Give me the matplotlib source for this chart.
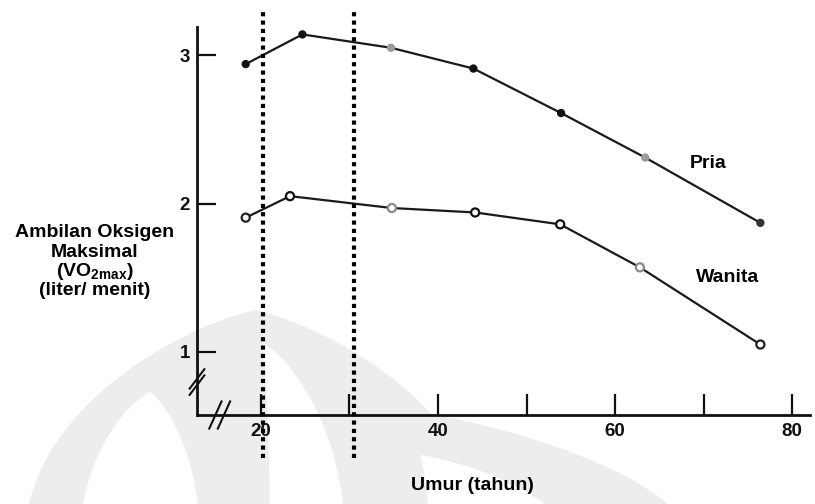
import matplotlib
matplotlib.use("Agg")
import matplotlib.pyplot as plt
from matplotlib.path import Path
from matplotlib.patches import PathPatch

plt.rcParams['font.family'] = ['Liberation Sans', 'DejaVu Sans']

# Data
umur_pria = [18.3, 24.7, 34.7, 44.0, 53.9, 63.4, 76.4]
vo2_pria = [2.94, 3.14, 3.05, 2.91, 2.61, 2.31, 1.87]
umur_wanita = [18.3, 23.3, 34.8, 44.2, 53.8, 62.8, 76.4]
vo2_wanita = [1.905, 2.05, 1.97, 1.94, 1.86, 1.57, 1.05]
pria_colors = ['#111111', '#111111', '#9a9a9a', '#111111', '#111111', '#9a9a9a', '#333333']
wanita_colors = ['#222222', '#111111', '#8a8a8a', '#111111', '#111111', '#8a8a8a', '#222222']
x_ticks = [20, 30, 40, 50, 60, 70, 80]
x_ticklabels = ['20', '', '40', '', '60', '', '80']
y_ticks = [1, 2, 3]
y_ticklabels = ['1', '2', '3']
batas_umur = [20.3, 30.5]
ylabel_lines = ['Ambilan Oksigen', 'Maksimal',
                '(VO$_{\\mathregular{2max}}$)', '(liter/ menit)']

W, H = 815, 504
fig = plt.figure(figsize=(W / 100, H / 100), dpi=100)

# faint watermark (approximate lotus-like logo)
wm = fig.add_axes([0, 0, 1, 1], zorder=-5)
wm.set_xlim(0, W); wm.set_ylim(H, 0); wm.axis('off')
GRAY = '#ededed'


def arch(x0, x1, tx, ty, yb, color):
    h = yb - ty
    verts = [(x0, yb), (x0, ty + 0.45 * h), (tx - 0.35 * (tx - x0), ty + 0.08 * h), (tx, ty),
             (tx + 0.35 * (x1 - tx), ty + 0.08 * h), (x1, ty + 0.45 * h), (x1, yb), (x0, yb)]
    codes = [Path.MOVETO, Path.CURVE4, Path.CURVE4, Path.CURVE4,
             Path.CURVE4, Path.CURVE4, Path.CURVE4, Path.CLOSEPOLY]
    wm.add_patch(PathPatch(Path(verts, codes), facecolor=color, edgecolor='none'))


arch(25, 485, 255, 310, 540, GRAY)
arch(80, 200, 150, 392, 540, 'white')
arch(270, 345, 262, 342, 540, 'white')
arch(385, 700, 372, 405, 560, GRAY)
arch(430, 580, 420, 455, 560, 'white')

left, right, top, bottom = 197, 810, 27, 415
ax = fig.add_axes([left / W, 1 - bottom / H, (right - left) / W, (bottom - top) / H])
ax.patch.set_alpha(0)
ax.set_xlim(12.8, 82.0)
ax.set_ylim(0.575, 3.19)
for s in ['top', 'right']:
    ax.spines[s].set_visible(False)
for s in ['left', 'bottom']:
    ax.spines[s].set_linewidth(2.0)
    ax.spines[s].set_color('#111111')

ax.plot(umur_pria, vo2_pria, color='#1a1a1a', lw=1.6, zorder=3)
ax.scatter(umur_pria, vo2_pria, s=36, c=pria_colors, zorder=4, linewidths=0)
ax.plot(umur_wanita, vo2_wanita, color='#1a1a1a', lw=1.6, zorder=3)
ax.scatter(umur_wanita, vo2_wanita, s=34, facecolors='white', edgecolors=wanita_colors,
           linewidths=1.6, zorder=4)

ax.set_xticks(x_ticks)
ax.set_xticklabels(x_ticklabels, fontsize=13.5, fontweight='bold')
ax.set_yticks(y_ticks)
ax.set_yticklabels(y_ticklabels, fontsize=13.5, fontweight='bold')
ax.tick_params(axis='x', direction='in', length=15, width=1.6, pad=6, colors='#111111')
ax.tick_params(axis='y', direction='in', length=14, width=1.6, pad=5, colors='#111111')

# dotted age bounds, extending beyond axes
for xv in batas_umur:
    ax.axvline(xv, ymin=-0.11, ymax=1.05, color='black', lw=3,
               linestyle=(0, (1, 1)), clip_on=False, zorder=5)

# break marks
kw = dict(transform=ax.transAxes, color='#111111', lw=1.5, clip_on=False)
for dy in (-0.008, 0.008):
    ax.plot([-0.012, 0.012], [0.085 + dy - 0.025, 0.085 + dy + 0.025], **kw)
for dx in (-0.007, 0.007):
    ax.plot([0.037 + dx - 0.01, 0.037 + dx + 0.01], [-0.035, 0.035], **kw)

ax.text(70.5, 2.27, 'Pria', fontsize=14, fontweight='bold', ha='center', va='center')
ax.text(72.7, 1.50, 'Wanita', fontsize=14, fontweight='bold', ha='center', va='center')

fig.text(472 / W, 1 - 486 / H, 'Umur (tahun)', fontsize=14, fontweight='bold',
         ha='center', va='center')
for line, yp in zip(ylabel_lines, [237, 257, 276, 295]):
    fig.text(95 / W, 1 - yp / H, line, fontsize=14, fontweight='bold',
             ha='center', va='baseline')

fig.savefig('out.png', dpi=100)
